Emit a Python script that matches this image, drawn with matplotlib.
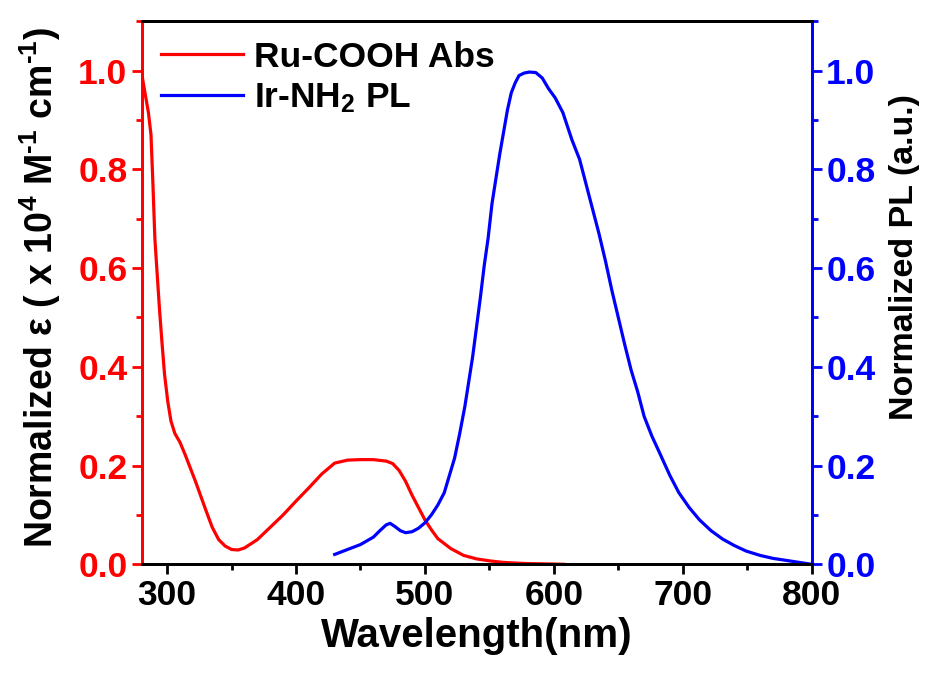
import numpy as np
import matplotlib
matplotlib.use('Agg')
import matplotlib.pyplot as plt
from matplotlib.ticker import MultipleLocator, FormatStrFormatter

plt.rcParams['font.family'] = ['Liberation Sans', 'DejaVu Sans']
plt.rcParams['font.weight'] = 'bold'
plt.rcParams['mathtext.fontset'] = 'custom'
plt.rcParams['mathtext.rm'] = 'Liberation Sans:bold'
plt.rcParams['mathtext.bf'] = 'Liberation Sans:bold'
plt.rcParams['mathtext.it'] = 'Liberation Sans:bold'
plt.rcParams['mathtext.sf'] = 'Liberation Sans'
plt.rcParams['mathtext.default'] = 'bf'

# Ru-COOH absorption (normalized)
abs_wl = [280, 281.5, 283.5, 285.5, 287.5, 289, 290.5, 292, 294, 296, 298, 300.5,
          303, 306, 310, 314, 318, 322, 326, 330, 335, 340, 345, 350, 355, 360,
          370, 380, 390, 400, 410, 420, 430, 440, 450, 460, 470, 475, 480, 485,
          490, 495, 500, 505, 510, 520, 530, 540, 550, 560, 570, 580, 590, 600, 608]
abs_val = [1.0, 0.975, 0.945, 0.915, 0.87, 0.77, 0.66, 0.60, 0.52, 0.45, 0.385,
           0.33, 0.29, 0.265, 0.247, 0.222, 0.195, 0.168, 0.139, 0.11, 0.075, 0.05,
           0.037, 0.030, 0.029, 0.033, 0.050, 0.075, 0.10, 0.128, 0.155, 0.183,
           0.205, 0.211, 0.212, 0.212, 0.209, 0.204, 0.19, 0.168, 0.14, 0.115, 0.09,
           0.07, 0.052, 0.032, 0.018, 0.011, 0.007, 0.004, 0.0025, 0.0015, 0.001,
           0.0005, 0.0]

# Ir-NH2 photoluminescence (normalized)
pl_wl = [430, 440, 450, 460, 465, 470, 473, 477, 481, 485, 490, 495, 500, 505, 510,
         515, 519, 523, 527, 531, 534, 537, 540, 543, 546, 549, 552, 555, 558, 561,
         564, 567, 570, 573, 577, 581, 586, 591, 596, 601, 607, 614, 620, 625, 630,
         635, 640, 645, 650, 655, 660, 665, 670, 676, 682, 690, 697, 705, 713, 722,
         731, 740, 749, 760, 770, 780, 790, 800]
pl_val = [0.020, 0.030, 0.040, 0.055, 0.068, 0.080, 0.083, 0.076, 0.068, 0.064,
          0.066, 0.073, 0.084, 0.100, 0.120, 0.145, 0.18, 0.215, 0.265, 0.32, 0.37,
          0.42, 0.48, 0.54, 0.605, 0.66, 0.73, 0.78, 0.83, 0.875, 0.92, 0.955, 0.975,
          0.99, 0.995, 0.997, 0.996, 0.985, 0.963, 0.945, 0.915, 0.86, 0.82, 0.77,
          0.72, 0.67, 0.615, 0.555, 0.50, 0.445, 0.393, 0.35, 0.30, 0.26, 0.226,
          0.18, 0.145, 0.115, 0.09, 0.068, 0.051, 0.038, 0.027, 0.018, 0.012, 0.008,
          0.004, 0.0]

red = '#ff0000'
blue = '#0000ff'

fig = plt.figure(figsize=(9.34, 6.84), dpi=100)
ax = fig.add_axes([0.152, 0.175, 0.717, 0.794])
ax2 = ax.twinx()

l1, = ax.plot(abs_wl, abs_val, color=red, lw=2.3)
l2, = ax2.plot(pl_wl, pl_val, color=blue, lw=2.3)

ax.set_xlim(280.5, 800)
ax.set_ylim(0, 1.1)
ax2.set_ylim(0, 1.1)

ax.xaxis.set_major_locator(MultipleLocator(100))
ax.xaxis.set_minor_locator(MultipleLocator(50))
for a in (ax, ax2):
    a.yaxis.set_major_locator(MultipleLocator(0.2))
    a.yaxis.set_minor_locator(MultipleLocator(0.1))
    a.yaxis.set_major_formatter(FormatStrFormatter('%.1f'))
    for s in a.spines.values():
        s.set_linewidth(2.0)

ax.spines['left'].set_color(red)
ax2.spines['left'].set_color(red)
ax.spines['right'].set_color(blue)
ax2.spines['right'].set_color(blue)

fs_tick = 25.5
ax.tick_params(axis='x', which='major', length=7, width=2, labelsize=fs_tick, colors='black')
ax.tick_params(axis='x', which='minor', length=4, width=2)
ax.tick_params(axis='y', which='major', length=7, width=2, labelsize=fs_tick, colors=red)
ax.tick_params(axis='y', which='minor', length=4, width=2, colors=red)
ax2.tick_params(axis='y', which='major', length=7, width=2, labelsize=fs_tick, colors=blue)
ax2.tick_params(axis='y', which='minor', length=4, width=2, colors=blue)

ax.set_xlabel('Wavelength(nm)', fontsize=29, fontweight='bold', labelpad=4)
ax.set_ylabel(r'Normalized $\mathsf{\varepsilon}$ ( x 10$^4$ M$^{\text{-}1}$ cm$^{\text{-}1}$)',
              fontsize=27, fontweight='bold')
ax.yaxis.set_label_coords(-0.118, 0.51)
ax2.set_ylabel('Normalized PL (a.u.)', fontsize=24.5, fontweight='bold')
ax2.yaxis.set_label_coords(1.115, 0.566)

ax.legend([l1, l2], ['Ru-COOH Abs', 'Ir-NH$_2$ PL'], loc='upper left',
          frameon=False, fontsize=25.5, handlelength=2.3, handletextpad=0.3,
          labelspacing=0.22, borderaxespad=0.15, bbox_to_anchor=(0.0, 1.0))

fig.savefig('out.png', dpi=100)
